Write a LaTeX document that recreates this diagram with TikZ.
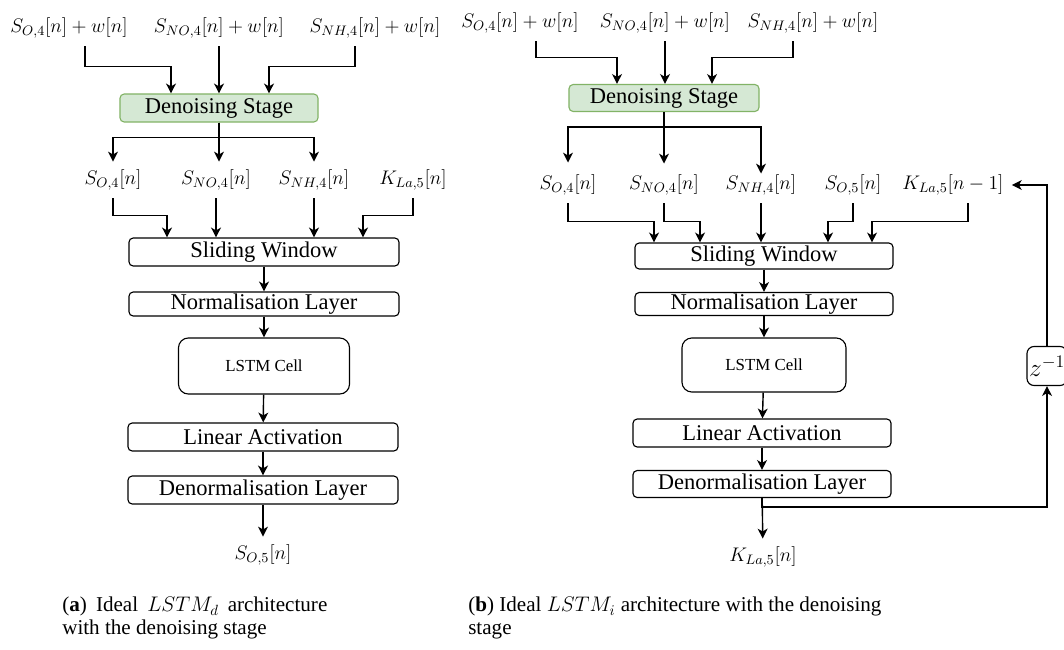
\RequirePackage{fix-cm}
\documentclass[tikz,border=0pt]{standalone}
\usepackage[no-math]{fontspec}
\setmainfont{Liberation Serif}
\usepackage{tikz}
\usetikzlibrary{calc}
\usetikzlibrary{arrows.meta}
\usepackage{color}
\definecolor{mintgreen}{RGB}{213, 232, 212}
\definecolor{leafgreen}{RGB}{130, 179, 102}

\begin{document}
\begin{tikzpicture}[x=0.025cm, y=-0.025cm,
        flow/.style={-{Stealth[length=7pt, width=7pt, inset=2pt]}, line width=1pt},
        layer/.style={draw, line width=0.8pt, rounded corners=3pt, minimum width=6.75cm,
                      minimum height=0.7cm, inner sep=0pt, font=\fontsize{16}{19}\selectfont},
        denoise/.style={layer, fill=mintgreen, draw=leafgreen},
        cell/.style={layer, rounded corners=7pt, minimum width=4.275cm, minimum height=1.4cm,
                     font=\fontsize{12}{14}\selectfont},
        delay/.style={layer, rounded corners=5pt, minimum width=1.0cm, minimum height=0.975cm,
                      font=\fontsize{18}{20}\selectfont},
        sig/.style={inner sep=0.2cm, font=\fontsize{14}{17}\selectfont},
        note/.style={anchor=north west, inner sep=0pt, font=\fontsize{15}{16.3}\selectfont}]
            % Frame to fix the page size
            \useasboundingbox (0,0) rectangle (1064,650);

            % (a) Inputs & denoising
            \node[sig]                                        (in1a) at ( 69, 28) {$S_{O,4}[n] + w[n]$};
            \node[sig]                                        (in1b) at (219, 28) {$S_{NO,4}[n] + w[n]$};
            \node[sig]                                        (in1c) at (375, 28) {$S_{NH,4}[n] + w[n]$};
            \node[denoise, minimum width=4.95cm]              (ds1)  at (219,108) {Denoising Stage};
            \draw[flow] ($(in1a.south)+(16,0)$) -- ++(0,20) -| ($(ds1.north)+(-48,0)$);
            \draw[flow] (in1b.south) -- (in1b.south |- ds1.north);
            \draw[flow] ($(in1c.south)+(-20,0)$) -- ++(0,20) -| ($(ds1.north)+(50,0)$);

            % (a) Denoised signals
            \node[sig]                                        (so4a) at (113,180) {$S_{O,4}[n]$};
            \node[sig]                                        (sno4a) at (216,180) {$S_{NO,4}[n]$};
            \node[sig]                                        (snh4a) at (314,180) {$S_{NH,4}[n]$};
            \node[sig]                                        (kla)  at (413,180) {$K_{La,5}[n]$};
            \draw[flow] (ds1.south) -- ++(0,15) -| (so4a.north);
            \draw[flow] (ds1.south) -- (ds1.south |- sno4a.north);
            \draw[flow] (ds1.south) -- ++(0,15) -| (snh4a.north);

            % (a) Network
            \node[layer]                                      (sw1)  at (264,252) {Sliding Window};
            \node[layer, minimum height=0.6cm]                (nl1)  at (264,304) {Normalisation Layer};
            \node[cell]                                       (lc1)  at (264,366) {LSTM Cell};
            \node[layer]                                      (la1)  at (263,437) {Linear Activation};
            \node[layer]                                      (dn1)  at (263,490) {Denormalisation Layer};
            \node[sig]                                        (so5a) at (263,555) {$S_{O,5}[n]$};
            \draw[flow] (so4a.south) -- ++(0,17) -| ($(sw1.north)+(-97,0)$);
            \draw[flow] (sno4a.south) -- (sno4a.south |- sw1.north);
            \draw[flow] (snh4a.south) -- (snh4a.south |- sw1.north);
            \draw[flow] (kla.south) -- ++(0,17) -| ($(sw1.north)+(99,0)$);
            \draw[flow] (sw1) -- (nl1);
            \draw[flow] (nl1) -- (lc1);
            \draw[flow] (lc1) -- (la1);
            \draw[flow] (la1) -- (dn1);
            \draw[flow] (dn1) -- (so5a);

            % (b) Inputs & denoising
            \node[sig]                                        (in2a) at (520, 23) {$S_{O,4}[n] + w[n]$};
            \node[sig]                                        (in2b) at (665, 23) {$S_{NO,4}[n] + w[n]$};
            \node[sig]                                        (in2c) at (813, 23) {$S_{NH,4}[n] + w[n]$};
            \node[denoise, minimum width=4.75cm, minimum height=0.675cm] (ds2) at (664, 98) {Denoising Stage};
            \draw[flow] ($(in2a.south)+(16,0)$) -- ++(0,16) -| ($(ds2.north)+(-47,0)$);
            \draw[flow] (in2b.south) -- (in2b.south |- ds2.north);
            \draw[flow] ($(in2c.south)+(-20,0)$) -- ++(0,16) -| ($(ds2.north)+(48,0)$);

            % (b) Denoised signals & fed back output
            \node[sig]                                        (so4b) at (568,185) {$S_{O,4}[n]$};
            \node[sig]                                        (sno4b) at (664,185) {$S_{NO,4}[n]$};
            \node[sig]                                        (snh4b) at (761,185) {$S_{NH,4}[n]$};
            \node[sig]                                        (so5b) at (853,185) {$S_{O,5}[n]$};
            \node[sig]                                        (klb)  at (953,185) {$K_{La,5}[n-1]$};
            \draw[flow] (ds2.south) -- ++(0,15) -| ($(so4b.north)+(0,-4)$);
            \draw[flow] (ds2.south) -- ($(ds2.south |- sno4b.north)+(0,-3)$);
            \draw[flow] (ds2.south) -- ++(0,15) -| ($(snh4b.north)+(0,7)$);

            % (b) Network
            \node[layer, minimum width=6.45cm, minimum height=0.65cm]  (sw2) at (764,256) {Sliding Window};
            \node[layer, minimum width=6.45cm, minimum height=0.575cm] (nl2) at (764,304) {Normalisation Layer};
            \node[cell, minimum width=4.1cm, minimum height=1.35cm]    (lc2) at (764,365) {LSTM Cell};
            \node[layer, minimum width=6.45cm]                          (la2) at (762,433) {Linear Activation};
            \node[layer, minimum width=6.45cm, minimum height=0.675cm] (dn2) at (762,484) {Denormalisation Layer};
            \node[sig]                                        (klout) at (763,557) {$K_{La,5}[n]$};
            \node[delay]                                      (zinv) at (1047,366) {$z^{-1}$};
            \draw[flow] (so4b.south) -- ++(0,18) -| ($(sw2.north)+(-110,0)$);
            \draw[flow] (sno4b.south) -- ++(0,18) -| ($(sw2.north)+(-64,0)$);
            \draw[flow] (snh4b.south) -- (snh4b.south |- sw2.north);
            \draw[flow] (so5b.south) -- ++(0,18) -| ($(sw2.north)+(64,0)$);
            \draw[flow] ($(klb.south)+(15,0)$) -- ++(0,18) -| ($(sw2.north)+(108,0)$);
            \draw[flow] (sw2) -- (nl2);
            \draw[flow] (nl2) -- (lc2);
            \draw[flow] (lc2) -- (la2);
            \draw[flow] (la2) -- (dn2);
            \draw[flow] (dn2) -- (klout);
            % Feedback through the delay
            \draw[flow] (dn2.south) -- ++(0,9) -| (zinv.south);
            \draw[flow] (zinv.north) |- (klb.east);

            % Captions
            \node[note, text width=6.625cm, align=justify] (capa) at ( 62,597)
                 {(\textbf{a}) Ideal $LSTM_d$ architecture\linebreak with the denoising stage};
            \node[note, align=left]                        (capb) at (468,597)
                 {(\textbf{b}) Ideal $LSTM_i$ architecture with the denoising\\ stage};
\end{tikzpicture}
\end{document}
